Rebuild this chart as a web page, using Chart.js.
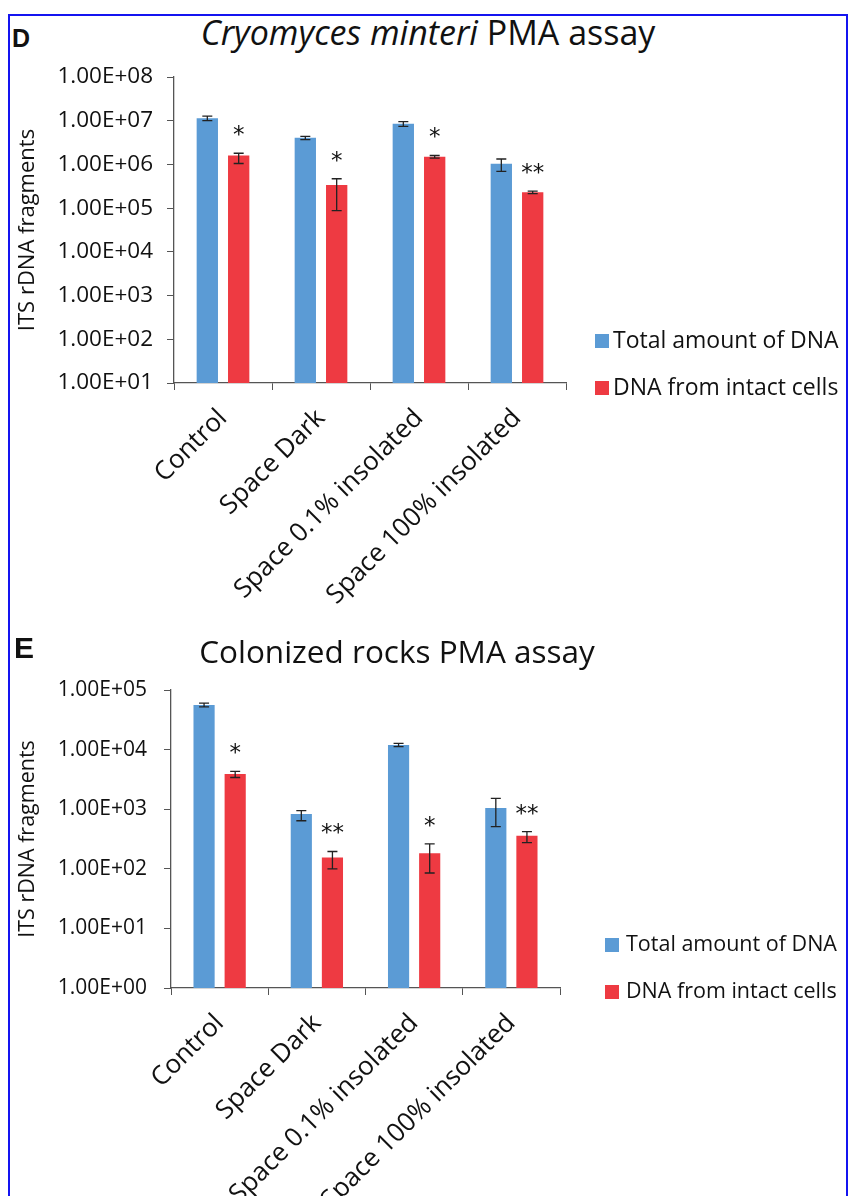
<!DOCTYPE html>
<html>
<head>
<meta charset="utf-8">
<script src="https://cdn.jsdelivr.net/npm/chart.js@4.4.1/dist/chart.umd.min.js"></script>
<style>
  body { margin: 0; background: #fff; overflow: hidden; }
  #page { position: relative; width: 849px; height: 1196px; overflow: hidden; font-family: "Open Sans", sans-serif; color: #111; }
  #frame { position: absolute; left: 8px; top: 14px; width: 836px; height: 1300px; border: 2px solid #1414f0; }
  canvas { position: absolute; left: 0; }
  .letter { position: absolute; font-family: "Liberation Sans", Arial, sans-serif; font-weight: bold; line-height: 1; }
  .title { position: absolute; line-height: 1; white-space: nowrap; transform: translateX(-50%); }
</style>
</head>
<body>
<div id="page">
  <div id="frame"></div>
  <div class="letter" style="left:12px;top:26px;font-size:25px">D</div>
  <div class="title" style="left:428px;top:15px;font-size:34px"><i>Cryomyces minteri</i> PMA assay</div>
  <canvas id="chartD" width="849" height="640" style="top:0"></canvas>
  <div class="letter" style="left:14px;top:633px;font-size:30px">E</div>
  <div class="title" style="left:397px;top:635px;font-size:31.5px">Colonized rocks PMA assay</div>
  <canvas id="chartE" width="849" height="596" style="top:600px"></canvas>
</div>
<script>
const categories = ["Control", "Space Dark", "Space 0.1% insolated", "Space 100% insolated"];
const seriesNames = ["Total amount of DNA", "DNA from intact cells"];
const seriesColors = ["#5b9bd5", "#ee3a42"];

// panel D: Cryomyces minteri
const totalD = [1.14e7, 4.1e6, 8.5e6, 1.03e6];
const totalLowD = [1.0e7, 3.7e6, 7.4e6, 6.9e5];
const totalHighD = [1.28e7, 4.4e6, 9.5e6, 1.33e6];
const intactD = [1.6e6, 3.4e5, 1.5e6, 2.3e5];
const intactLowD = [1.05e6, 8.8e4, 1.4e6, 2.15e5];
const intactHighD = [1.8e6, 4.7e5, 1.6e6, 2.45e5];
const starsD = ["*", "*", "*", "**"];
const yTicksD = [1e1, 1e2, 1e3, 1e4, 1e5, 1e6, 1e7, 1e8];
const yLabelsD = ["1.00E+01", "1.00E+02", "1.00E+03", "1.00E+04", "1.00E+05", "1.00E+06", "1.00E+07", "1.00E+08"];

// panel E: colonized rocks
const totalE = [5.6e4, 830, 1.2e4, 1050];
const totalLowE = [5.2e4, 640, 1.12e4, 510];
const totalHighE = [6.0e4, 950, 1.27e4, 1520];
const intactE = [3.9e3, 155, 182, 360];
const intactLowE = [3.4e3, 100, 85, 275];
const intactHighE = [4.3e3, 195, 262, 420];
const starsE = ["*", "**", "*", "**"];
const yTicksE = [1e0, 1e1, 1e2, 1e3, 1e4, 1e5];
const yLabelsE = ["1.00E+00", "1.00E+01", "1.00E+02", "1.00E+03", "1.00E+04", "1.00E+05"];

Chart.defaults.font.family = "'Open Sans', sans-serif";

const extras = {
  id: "extras",
  afterDatasetsDraw(chart, args, opts) {
    const ctx = chart.ctx;
    const y = chart.scales.y;
    const area = chart.chartArea;
    ctx.save();
    // error bars
    ctx.strokeStyle = "#222";
    ctx.lineWidth = 1.3;
    chart.data.datasets.forEach((ds, i) => {
      chart.getDatasetMeta(i).data.forEach((bar, j) => {
        const top = y.getPixelForValue(ds.errHigh[j]);
        const bot = y.getPixelForValue(ds.errLow[j]);
        ctx.beginPath();
        ctx.moveTo(bar.x, top); ctx.lineTo(bar.x, bot);
        ctx.moveTo(bar.x - 5, top); ctx.lineTo(bar.x + 5, top);
        ctx.moveTo(bar.x - 5, bot); ctx.lineTo(bar.x + 5, bot);
        ctx.stroke();
      });
    });
    // significance stars over the intact-cell bars
    const red = chart.data.datasets[1];
    ctx.fillStyle = "#111";
    ctx.font = "23px 'DejaVu Sans'";
    ctx.textAlign = "center";
    ctx.textBaseline = "middle";
    chart.getDatasetMeta(1).data.forEach((bar, j) => {
      ctx.fillText(opts.stars[j], bar.x, y.getPixelForValue(red.errHigh[j]) - 17);
    });
    // legend
    ctx.font = opts.legendFont + "px 'Open Sans'";
    ctx.textAlign = "left";
    chart.data.datasets.forEach((ds, i) => {
      const ly = area.bottom + opts.legendY[i];
      const lx = area.right + opts.legendX;
      ctx.fillStyle = ds.backgroundColor;
      ctx.fillRect(lx, ly - 7, 14, 14);
      ctx.fillStyle = "#111";
      ctx.fillText(ds.label, lx + opts.legendGap, ly);
    });
    ctx.restore();
  }
};

function makeChart(id, cfg) {
  return new Chart(document.getElementById(id), {
    type: "bar",
    data: {
      labels: categories,
      datasets: [
        { label: seriesNames[0], data: cfg.total, errLow: cfg.totalLow, errHigh: cfg.totalHigh, backgroundColor: seriesColors[0] },
        { label: seriesNames[1], data: cfg.intact, errLow: cfg.intactLow, errHigh: cfg.intactHigh, backgroundColor: seriesColors[1] }
      ]
    },
    options: {
      responsive: false,
      animation: false,
      datasets: { bar: { categoryPercentage: 0.64, barPercentage: 0.68 } },
      layout: { padding: cfg.padding },
      plugins: {
        legend: { display: false },
        tooltip: { enabled: false },
        extras: { stars: cfg.stars, legendX: cfg.legendX, legendY: cfg.legendY, legendFont: cfg.legendFont, legendGap: cfg.legendGap }
      },
      scales: {
        x: {
          afterFit: s => { s.height = cfg.xHeight; },
          ticks: { autoSkip: false, minRotation: 45, maxRotation: 45, color: "#111", padding: 13, font: { size: 26 } },
          grid: { drawOnChartArea: false, tickLength: 7, color: "#555", offset: true },
          border: { color: "#555", width: 1.3 }
        },
        y: {
          type: "logarithmic",
          min: cfg.yTicks[0],
          max: cfg.yTicks[cfg.yTicks.length - 1],
          afterBuildTicks: s => { s.ticks = cfg.yTicks.map(v => ({ value: v })); },
          afterFit: s => { s.width = cfg.yWidth; },
          ticks: { callback: (v, i) => cfg.yLabels[i], color: "#111", padding: cfg.tickPad, font: { size: cfg.tickSize } },
          grid: { drawOnChartArea: false, tickLength: 7, color: "#555" },
          border: { color: "#555", width: 1.3 },
          title: { display: true, text: "ITS rDNA fragments", color: "#111", font: { size: cfg.titleSize }, padding: { top: 15, bottom: 0 } }
        }
      }
    },
    plugins: [extras]
  });
}

makeChart("chartD", {
  total: totalD, totalLow: totalLowD, totalHigh: totalHighD,
  intact: intactD, intactLow: intactLowD, intactHigh: intactHighD,
  stars: starsD, yTicks: yTicksD, yLabels: yLabelsD,
  padding: { left: 0, top: 77, right: 283, bottom: 0 },
  yWidth: 174, xHeight: 257, tickPad: 14, tickSize: 22.5, titleSize: 22,
  legendX: 29, legendY: [-42, 5], legendFont: 23, legendGap: 18
});

makeChart("chartE", {
  total: totalE, totalLow: totalLowE, totalHigh: totalHighE,
  intact: intactE, intactLow: intactLowE, intactHigh: intactHighE,
  stars: starsE, yTicks: yTicksE, yLabels: yLabelsE,
  padding: { left: 0, top: 90, right: 289, bottom: 0 },
  yWidth: 171, xHeight: 208, tickPad: 17, tickSize: 21, titleSize: 21.5,
  legendX: 45, legendY: [-43, 4], legendFont: 21.5, legendGap: 21
});
</script>
</body>
</html>
